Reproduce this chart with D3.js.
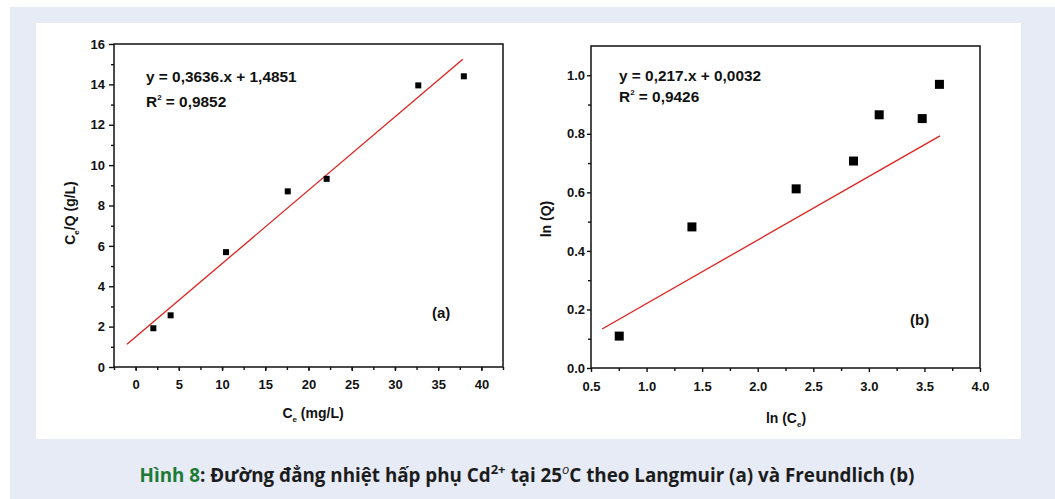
<!DOCTYPE html>
<html>
<head>
<meta charset="utf-8">
<script src="https://cdn.jsdelivr.net/npm/d3@7"></script>
<style>
  html, body { margin: 0; padding: 0; background: #ffffff; }
  svg { display: block; }
  .chart text { font-family: "Liberation Sans", Arial, sans-serif; font-weight: bold; fill: #111; }
  .axis path, .axis line { stroke: #111; stroke-width: 1.4; }
  .caption { font-family: "Open Sans", "Noto Sans", sans-serif; font-weight: 700; }
</style>
</head>
<body>
<script>
// Langmuir isotherm (a): Ce (mg/L) against Ce/Q (g/L)
const langmuirCe  = [2.05, 4.05, 10.46, 17.6, 22.1, 32.7, 37.97];
const langmuirCeQ = [1.92, 2.56, 5.69, 8.70, 9.32, 13.95, 14.40];
const langmuirFit = { slope: 0.3636, intercept: 1.4851, r2: "0,9852", from: -1.0, to: 37.85 };

// Freundlich isotherm (b): ln(Ce) against ln(Q)
const freundlichLnCe = [0.754, 1.408, 2.346, 2.862, 3.093, 3.480, 3.635];
const freundlichLnQ  = [0.109, 0.482, 0.612, 0.707, 0.865, 0.852, 0.969];
const freundlichFit  = { slope: 0.217, intercept: 0.0032, r2: "0,9426", from: 0.6, to: 3.64 };

// Tick values
const langmuirXTicks = [0, 5, 10, 15, 20, 25, 30, 35, 40];
const langmuirYTicks = [0, 2, 4, 6, 8, 10, 12, 14, 16];
const freundlichXTicks = [0.5, 1.0, 1.5, 2.0, 2.5, 3.0, 3.5, 4.0];
const freundlichYTicks = [0.0, 0.2, 0.4, 0.6, 0.8, 1.0];

const W = 1055, H = 499;
const svg = d3.select("body").append("svg").attr("width", W).attr("height", H);

// page background, tinted frame and white figure panel
svg.append("rect").attr("width", W).attr("height", H).attr("fill", "#ffffff");
svg.append("rect").attr("x", 10).attr("y", 7).attr("width", W - 10).attr("height", H - 7).attr("fill", "#e6ebf5");
svg.append("rect").attr("x", 36).attr("y", 23).attr("width", 985).attr("height", 416).attr("fill", "#ffffff");

function numberComma(v) { return String(v).replace(".", ","); }

function drawPanel(cfg) {
  const g = svg.append("g").attr("class", "chart");
  const x = d3.scaleLinear().domain(cfg.xDomain).range([cfg.left, cfg.right]);
  const y = d3.scaleLinear().domain(cfg.yDomain).range([cfg.bottom, cfg.top]);

  // minor ticks
  g.append("g").attr("class", "axis")
    .attr("transform", `translate(0,${cfg.bottom})`)
    .call(d3.axisBottom(x).tickValues(cfg.xMinor).tickSize(3).tickFormat(""))
    .call(s => s.select(".domain").remove());
  g.append("g").attr("class", "axis")
    .attr("transform", `translate(${cfg.left},0)`)
    .call(d3.axisLeft(y).tickValues(cfg.yMinor).tickSize(3).tickFormat(""))
    .call(s => s.select(".domain").remove());

  // major ticks with labels
  const xa = g.append("g").attr("class", "axis")
    .attr("transform", `translate(0,${cfg.bottom})`)
    .call(d3.axisBottom(x).tickValues(cfg.xTicks).tickSize(4).tickSizeOuter(0)
      .tickPadding(cfg.xPad).tickFormat(cfg.xFormat));
  xa.select(".domain").remove();
  xa.selectAll("text").attr("font-size", 13).attr("fill", "#111");

  const ya = g.append("g").attr("class", "axis")
    .attr("transform", `translate(${cfg.left},0)`)
    .call(d3.axisLeft(y).tickValues(cfg.yTicks).tickSize(cfg.yTickLen).tickSizeOuter(0)
      .tickPadding(cfg.yPad).tickFormat(cfg.yFormat));
  ya.select(".domain").remove();
  ya.selectAll("text").attr("font-size", 13).attr("fill", "#111");

  // frame
  g.append("rect")
    .attr("x", cfg.left).attr("y", cfg.top)
    .attr("width", cfg.right - cfg.left).attr("height", cfg.bottom - cfg.top)
    .attr("fill", "none").attr("stroke", "#111").attr("stroke-width", 1.5);

  // fitted line
  const fit = cfg.fit;
  const ends = [fit.from, fit.to].map(v => [v, fit.slope * v + fit.intercept]);
  g.append("path")
    .attr("d", d3.line().x(d => x(d[0])).y(d => y(d[1]))(ends))
    .attr("fill", "none").attr("stroke", "#e0201c").attr("stroke-width", 1.3);

  // data points
  const s = cfg.marker;
  g.selectAll("rect.pt").data(d3.zip(cfg.xs, cfg.ys)).join("rect")
    .attr("class", "pt")
    .attr("x", d => x(d[0]) - s / 2).attr("y", d => y(d[1]) - s / 2)
    .attr("width", s).attr("height", s).attr("fill", "#000");

  // regression equation
  const eq = g.append("text").attr("font-size", 15.4);
  eq.append("tspan").attr("x", cfg.eqX).attr("y", cfg.eqY)
    .text(`y = ${numberComma(fit.slope)}.x + ${numberComma(fit.intercept)}`);
  const r = g.append("text").attr("font-size", 15.4).attr("x", cfg.eqX).attr("y", cfg.eqY + cfg.eqGap);
  r.append("tspan").text("R");
  r.append("tspan").attr("font-size", 8).attr("dy", -7).text("2");
  r.append("tspan").attr("dy", 7).text(` = ${fit.r2}`);

  // panel tag
  g.append("text").attr("font-size", 15).attr("x", cfg.tagX).attr("y", cfg.tagY).text(cfg.tag);

  // axis titles
  const xt = g.append("text").attr("font-size", 14).attr("text-anchor", "middle")
    .attr("x", cfg.xTitleX).attr("y", cfg.xTitleY);
  cfg.xTitle.forEach(p => {
    const t = xt.append("tspan").text(p.t);
    if (p.sub) t.attr("font-size", 8).attr("dy", 4);
    if (p.after) t.attr("dy", -4);
  });
  const yt = g.append("text").attr("font-size", 14).attr("text-anchor", "middle")
    .attr("transform", `translate(${cfg.yTitleX},${cfg.yTitleY}) rotate(-90)`);
  cfg.yTitle.forEach(p => {
    const t = yt.append("tspan").text(p.t);
    if (p.sub) t.attr("font-size", 8).attr("dy", 4);
    if (p.after) t.attr("dy", -4);
  });
}

const halfSteps = (a, b, step) => d3.range(a, b + 1e-9, step);

drawPanel({
  left: 114, right: 503, top: 44, bottom: 367,
  xDomain: [-2.5, 42.5], yDomain: [0, 16],
  xTicks: langmuirXTicks, yTicks: langmuirYTicks,
  xMinor: halfSteps(-2.5, 42.5, 2.5), yMinor: halfSteps(1, 15, 2),
  xFormat: d3.format("d"), yFormat: d3.format("d"),
  xPad: 9, yPad: 4, yTickLen: 5,
  xs: langmuirCe, ys: langmuirCeQ, marker: 6, fit: langmuirFit,
  eqX: 146, eqY: 82, eqGap: 25,
  tag: "(a)", tagX: 432, tagY: 318,
  xTitle: [{ t: "C" }, { t: "e", sub: true }, { t: " (mg/L)", after: true }],
  xTitleX: 313, xTitleY: 418,
  yTitle: [{ t: "C" }, { t: "e", sub: true }, { t: "/Q (g/L)", after: true }],
  yTitleX: 75, yTitleY: 213
});

drawPanel({
  left: 591, right: 980, top: 46, bottom: 368,
  xDomain: [0.5, 4.0], yDomain: [0, 1.1],
  xTicks: freundlichXTicks, yTicks: freundlichYTicks,
  xMinor: halfSteps(0.75, 3.75, 0.5), yMinor: halfSteps(0.1, 0.9, 0.2),
  xFormat: d3.format(".1f"), yFormat: d3.format(".1f"),
  xPad: 10, yPad: 2, yTickLen: 4,
  xs: freundlichLnCe, ys: freundlichLnQ, marker: 9, fit: freundlichFit,
  eqX: 619, eqY: 81, eqGap: 21,
  tag: "(b)", tagX: 910, tagY: 325,
  xTitle: [{ t: "ln (C" }, { t: "e", sub: true }, { t: ")", after: true }],
  xTitleX: 786, xTitleY: 423,
  yTitle: [{ t: "ln (Q)" }],
  yTitleX: 551, yTitleY: 219
});

// figure caption
const cap = svg.append("text").attr("class", "caption")
  .attr("x", 527).attr("y", 482).attr("text-anchor", "middle")
  .attr("font-size", 18.8).attr("fill", "#1c1c1c");
cap.append("tspan").attr("fill", "#1d7a36").text("Hình 8");
cap.append("tspan").text(": Đường đẳng nhiệt hấp phụ Cd");
cap.append("tspan").attr("font-size", 13).attr("dy", -8).text("2+");
cap.append("tspan").attr("dy", 8).text(" tại 25");
cap.append("tspan").attr("font-size", 13).attr("dy", -8).attr("font-style", "italic").attr("font-weight", 400).text("o");
cap.append("tspan").attr("dy", 8).text("C theo Langmuir (a) và Freundlich (b)");
</script>
</body>
</html>
